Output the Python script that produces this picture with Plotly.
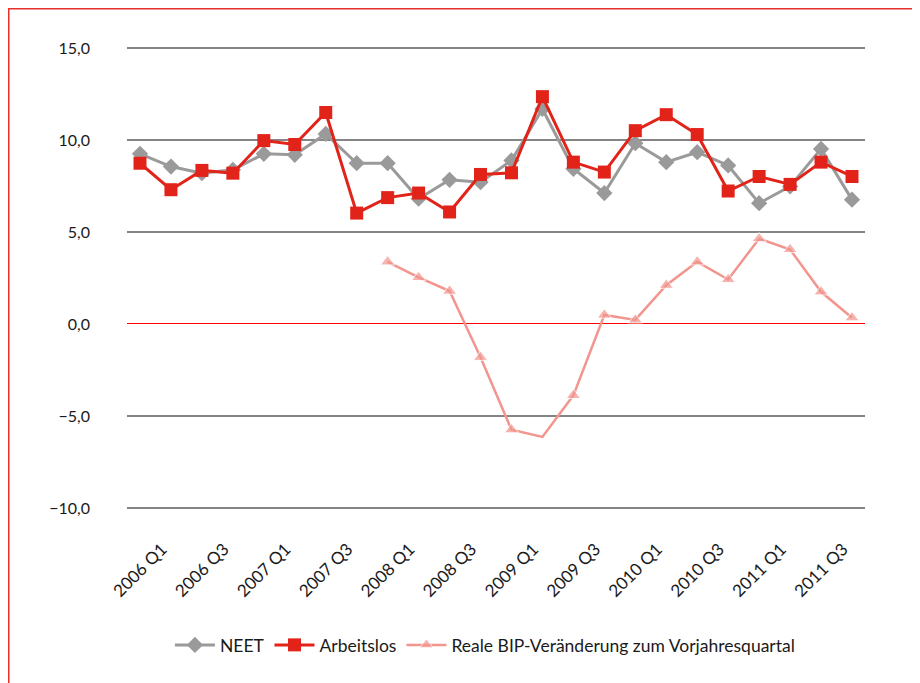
import plotly.graph_objects as go

quarters = [f"{y} Q{q}" for y in range(2006, 2012) for q in range(1, 5)]

neet = [9.25, 8.56, 8.2, 8.38, 9.25, 9.2, 10.33, 8.74,
        8.74, 6.81, 7.84, 7.71, 8.89, 11.69, 8.44, 7.12,
        9.83, 8.80, 9.34, 8.62, 6.57, 7.48, 9.52, 6.76]

arbeitslos = [8.74, 7.30, 8.35, 8.2, 9.97, 9.76, 11.5, 6.03,
              6.87, 7.12, 6.09, 8.13, 8.22, 12.36, 8.80, 8.26,
              10.51, 11.38, 10.30, 7.23, 8.02, 7.59, 8.80, 8.02]

bip = [None, None, None, None, None, None, None, None,
       3.38, 2.53, 1.79, -1.81, -5.75, -6.14, -3.88, 0.49,
       0.22, 2.11, 3.38, 2.42, 4.64, 4.05, 1.75, 0.34]

y_tickvals = [-10, -5, 0, 5, 10, 15]
y_ticktext = ["\u221210,0", "\u22125,0", "0,0", "5,0", "10,0", "15,0"]
x_tickvals = quarters[::2]

FONT = "Lato"
OFF = 8  # default page margin of the html body
W, H = 920 - OFF, 683 - OFF
L, R, T, B = 127 - OFF, 55, 47 - OFF, 174
pw, ph = W - L - R, H - T - B

def px_x(p):
    return (p - OFF - L) / pw

def px_y(p):
    return (H - B - (p - OFF)) / ph

fig = go.Figure()
fig.add_trace(go.Scatter(
    x=quarters, y=neet, name="NEET", mode="lines+markers",
    line=dict(color="#9a9a9a", width=3),
    marker=dict(symbol="diamond", size=12.5, color="#9a9a9a"),
))
fig.add_trace(go.Scatter(
    x=quarters, y=arbeitslos, name="Arbeitslos", mode="lines+markers",
    line=dict(color="#e2231a", width=3),
    marker=dict(symbol="square", size=13, color="#e2231a"),
))
bip_sizes = [0 if (i == 13) else 12.5 for i in range(len(quarters))]
fig.add_trace(go.Scatter(
    x=quarters, y=bip, name="Reale BIP-Ver\u00e4nderung zum Vorjahresquartal",
    mode="lines+markers",
    line=dict(color="#f3958f", width=2.5),
    marker=dict(symbol="triangle-up", size=bip_sizes, color="#f3958f"),
))

fig.update_layout(
    width=W, height=H,
    margin=dict(l=L, r=R, t=T, b=B),
    paper_bgcolor="white", plot_bgcolor="white",
    font=dict(family=FONT, size=16, color="#1a1a1a"),
    showlegend=True,
    legend=dict(orientation="h", x=0.485, xanchor="center", y=px_y(645), yanchor="middle",
                font=dict(size=17.5), itemwidth=40, tracegroupgap=0),
    xaxis=dict(type="category", categoryorder="array", categoryarray=quarters,
               tickmode="array", tickvals=x_tickvals, ticktext=x_tickvals,
               tickangle=-45, tickfont=dict(size=17),
               showgrid=False, showline=False, zeroline=False,
               ticks="", ticklabelshift=22, ticklabelstandoff=26,
               range=[-0.42, 23.42]),
    yaxis=dict(range=[-10.06, 15.06], tickmode="array", tickvals=y_tickvals, ticktext=y_ticktext,
               showgrid=True, gridcolor="#858585", gridwidth=1.5,
               zeroline=True, zerolinecolor="#ff0000", zerolinewidth=1.2,
               showline=False, ticks="", ticklabelstandoff=36),
    shapes=[dict(type="rect", xref="paper", yref="paper",
                 x0=px_x(OFF + 0.75), x1=px_x(940), y0=px_y(720), y1=px_y(OFF + 0.75),
                 line=dict(color="#e8302a", width=1.5), fillcolor="rgba(0,0,0,0)", layer="below")],
)

fig.write_html("out.html")
